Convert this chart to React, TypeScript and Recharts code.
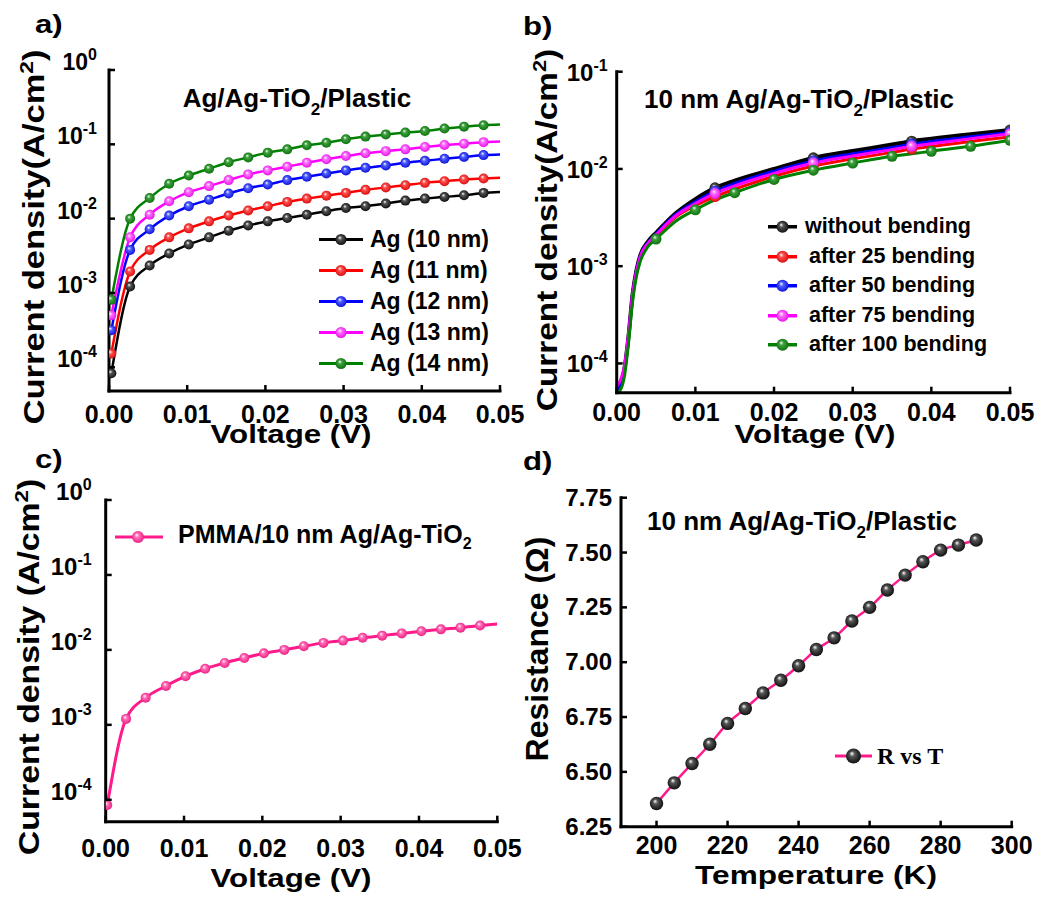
import React from 'react';
import { Legend, Line, LineChart, XAxis, YAxis } from 'recharts';

const FONT = '"Liberation Sans", Arial, Helvetica, sans-serif';
const SERIF = '"Liberation Serif", "Times New Roman", serif';
const PINK = '#ff1a8c';

// (a) J-V for different Ag thickness
const VOLT_A = [0.0003, 0.0027, 0.0052, 0.0077, 0.0102, 0.0128, 0.0153, 0.0178, 0.0203, 0.0228, 0.0253,
  0.0278, 0.0303, 0.0328, 0.0354, 0.0379, 0.0404, 0.0429, 0.0454, 0.0479, 0.05];
const AG_10 = [8.3e-5, 1.22e-3, 2.34e-3, 3.4e-3, 4.5e-3, 5.6e-3, 6.9e-3, 8.1e-3, 9.2e-3, 0.0102, 0.0113,
  0.0126, 0.0139, 0.0147, 0.016, 0.0175, 0.0186, 0.0196, 0.0206, 0.0222, 0.0229];
const AG_11 = [1.53e-4, 1.95e-3, 3.8e-3, 5.6e-3, 7.4e-3, 9.2e-3, 0.011, 0.0129, 0.0147, 0.0168, 0.0186,
  0.0204, 0.0222, 0.0244, 0.0263, 0.0282, 0.0303, 0.0319, 0.0337, 0.0347, 0.0355];
const AG_12 = [3.16e-4, 3.8e-3, 7.2e-3, 0.011, 0.0147, 0.018, 0.0218, 0.0257, 0.0288, 0.033, 0.0366,
  0.0405, 0.0446, 0.0484, 0.052, 0.0566, 0.06, 0.064, 0.0675, 0.0716, 0.073];
const AG_13 = [5e-4, 5.6e-3, 0.0113, 0.0171, 0.0227, 0.0274, 0.033, 0.0394, 0.0446, 0.05, 0.0566,
  0.063, 0.0695, 0.0758, 0.081, 0.0856, 0.092, 0.098, 0.102, 0.107, 0.109];
const AG_14 = [8.1e-4, 0.01, 0.019, 0.0295, 0.038, 0.047, 0.0575, 0.0667, 0.0773, 0.0856, 0.097,
  0.105, 0.117, 0.127, 0.136, 0.144, 0.151, 0.163, 0.173, 0.181, 0.185];
const THICK_KEYS = ['ag10', 'ag11', 'ag12', 'ag13', 'ag14'];
const THICK_NAMES = ['Ag (10 nm)', 'Ag (11 nm)', 'Ag (12 nm)', 'Ag (13 nm)', 'Ag (14 nm)'];

// (b) bending test
const VOLT_B = [0, 0.0005, 0.001, 0.0015, 0.002, 0.0025, 0.003, 0.004, 0.005, 0.0075, 0.01, 0.0125,
  0.015, 0.02, 0.025, 0.03, 0.035, 0.0375, 0.04, 0.045, 0.05];
const BEND_0 = [5.0e-5, 6.0e-5, 9.0e-5, 1.9e-4, 5.0e-4, 9.0e-4, 1.3e-3, 1.8e-3, 2.2e-3, 3.5e-3, 4.9e-3,
  6.4e-3, 7.6e-3, 0.01, 0.013, 0.0153, 0.0178, 0.0193, 0.0205, 0.0228, 0.0251];
const BEND_25 = [5.0e-5, 5.8e-5, 8.5e-5, 1.8e-4, 4.8e-4, 8.6e-4, 1.24e-3, 1.7e-3, 2.05e-3, 3.2e-3, 4.2e-3,
  5.2e-3, 6.2e-3, 8.4e-3, 0.0107, 0.0127, 0.0148, 0.016, 0.017, 0.0192, 0.0213];
const BEND_50 = [5.2e-5, 6.2e-5, 9.0e-5, 1.9e-4, 5.0e-4, 8.9e-4, 1.28e-3, 1.76e-3, 2.15e-3, 3.4e-3, 4.6e-3,
  5.9e-3, 7.1e-3, 9.5e-3, 0.0121, 0.0143, 0.0166, 0.018, 0.0192, 0.0214, 0.0238];
const BEND_75 = [5.8e-5, 6.8e-5, 9.5e-5, 2.0e-4, 5.0e-4, 8.8e-4, 1.26e-3, 1.73e-3, 2.1e-3, 3.3e-3, 4.4e-3,
  5.6e-3, 6.7e-3, 9.0e-3, 0.0115, 0.0136, 0.0158, 0.0171, 0.0182, 0.0205, 0.023];
const BEND_100 = [5.0e-5, 5.4e-5, 7.5e-5, 1.6e-4, 4.2e-4, 7.8e-4, 1.12e-3, 1.6e-3, 1.9e-3, 2.9e-3, 3.8e-3,
  4.8e-3, 5.7e-3, 7.8e-3, 9.7e-3, 0.0115, 0.0135, 0.0143, 0.0152, 0.0171, 0.0197];
const BEND_KEYS = ['b0', 'b25', 'b50', 'b75', 'b100'];
const BEND_NAMES = ['without bending', 'after 25 bending', 'after 50 bending', 'after 75 bending', 'after 100 bending'];
const BEND_MARKS = [0.0125, 0.025, 0.0375, 0.05];
const BEND_100_MARKS = [0.005, 0.01, 0.015, 0.02, 0.025, 0.03, 0.035, 0.04, 0.045, 0.05];

// (c) PMMA coated
const VOLT_C = [0.0002, 0.0026, 0.0051, 0.0077, 0.0102, 0.0127, 0.0152, 0.0177, 0.0202, 0.0228, 0.0253,
  0.0278, 0.0303, 0.0328, 0.0353, 0.0378, 0.0403, 0.0428, 0.0453, 0.0478, 0.05];
const PMMA = [8.5e-5, 1.2e-3, 2.3e-3, 3.3e-3, 4.45e-3, 5.6e-3, 6.7e-3, 7.8e-3, 9.0e-3, 0.01, 0.0112,
  0.0124, 0.0133, 0.0145, 0.0155, 0.0166, 0.0177, 0.0188, 0.0198, 0.0211, 0.0222];

// (d) R vs T
const TEMP = [200, 205, 210, 215, 220, 225, 230, 235, 240, 245, 250, 255, 260, 265, 270, 275, 280, 285, 290];
const RES = [6.356, 6.45, 6.538, 6.626, 6.721, 6.789, 6.86, 6.918, 6.984, 7.058, 7.111, 7.188, 7.25,
  7.329, 7.397, 7.458, 7.511, 7.534, 7.557];

const COLORS = ['#000000', '#ff0000', '#0000ff', '#ff00ff', '#008000'];
const GRADS = ['g-black', 'g-red', 'g-blue', 'g-magenta', 'g-green'];

const V_TICKS = [0, 0.01, 0.02, 0.03, 0.04, 0.05];
const LOG_TICKS = [1e-4, 1e-3, 1e-2, 1e-1, 1];

const rowsA = VOLT_A.map((v, i) => ({ v, ag10: AG_10[i], ag11: AG_11[i], ag12: AG_12[i], ag13: AG_13[i], ag14: AG_14[i] }));
const rowsB = VOLT_B.map((v, i) => ({ v, b0: BEND_0[i], b25: BEND_25[i], b50: BEND_50[i], b75: BEND_75[i], b100: BEND_100[i] }));
const rowsC = VOLT_C.map((v, i) => ({ v, pmma: PMMA[i] }));
const rowsD = TEMP.map((t, i) => ({ t, r: RES[i] }));

const frame = { stroke: '#000', strokeWidth: 3, strokeLinecap: 'square' as const };

const logTick = (gap: number, dy: number, size: number) => (p: any) => {
  const { x, y, payload } = p;
  const exp = Math.round(Math.log10(payload.value));
  return (
    <g>
      <line x1={x} x2={x + 6} y1={y} y2={y} stroke="#000" strokeWidth={2.5} />
      <text x={x - gap} y={y + dy} textAnchor="end" fontFamily={FONT} fontWeight="bold" fontSize={size} fill="#000">
        10<tspan dy={-10} fontSize={16}>{`${exp}`}</tspan>
      </text>
    </g>
  );
};

const linTick = (gap: number, dy: number, size: number) => (p: any) => {
  const { x, y, payload } = p;
  return (
    <g>
      <line x1={x} x2={x + 6} y1={y} y2={y} stroke="#000" strokeWidth={2.5} />
      <text x={x - gap} y={y + dy} textAnchor="end" fontFamily={FONT} fontWeight="bold" fontSize={size} fill="#000">
        {payload.value.toFixed(2)}
      </text>
    </g>
  );
};

const xTick = (dy: number, size: number, digits: number) => (p: any) => {
  const { x, y, payload } = p;
  return (
    <g>
      <line x1={x} x2={x} y1={y} y2={y - 6} stroke="#000" strokeWidth={2.5} />
      <text x={x} y={y + dy} textAnchor="middle" fontFamily={FONT} fontWeight="bold" fontSize={size} fill="#000">
        {payload.value.toFixed(digits)}
      </text>
    </g>
  );
};

const sphereDot = (grad: string, r: number, show: (v: number, i: number) => boolean) => (p: any) => {
  const { cx, cy, index, payload } = p;
  if (cx == null || cy == null || !show(payload.v ?? payload.t, index)) return <g key={`d${index}`} />;
  return <circle key={`d${index}`} cx={cx} cy={cy} r={r} fill={`url(#${grad})`} />;
};

const legendRows = (items: { name: string; color: string; grad: string }[], o: any) => () => (
  <div>
    {items.map((it, i) => (
      <div key={it.name} style={{ display: 'flex', alignItems: 'center', height: o.rowH }}>
        <svg width={o.lineW} height={o.rowH} style={{ display: 'block' }}>
          <line x1={0} x2={o.lineW} y1={o.rowH / 2} y2={o.rowH / 2} stroke={it.color} strokeWidth={o.sw} />
          <circle cx={o.lineW / 2} cy={o.rowH / 2} r={o.r} fill={`url(#${it.grad})`} />
        </svg>
        <span style={{ marginLeft: o.gap + (o.extra && i > 0 ? o.extra : 0), fontFamily: o.font ?? FONT, fontWeight: 'bold', fontSize: o.size, color: '#000', whiteSpace: 'nowrap', lineHeight: 1 }}>
          {it.name}
        </span>
      </div>
    ))}
  </div>
);

function Grad({ id, light, dark }: { id: string; light: string; dark: string }) {
  return (
    <radialGradient id={id} cx="50%" cy="50%" fx="38%" fy="32%" r="60%">
      <stop offset="0%" stopColor="#ffffff" />
      <stop offset="30%" stopColor={light} />
      <stop offset="100%" stopColor={dark} />
    </radialGradient>
  );
}

function Sub() {
  return (
    <>
      <tspan dy={8} fontSize={17}>2</tspan>
      <tspan dy={-8}>/Plastic</tspan>
    </>
  );
}

function Cm2() {
  return (
    <>
      <tspan dy={-11} fontSize={19}>2</tspan>
      <tspan dy={11}>)</tspan>
    </>
  );
}

export default function App() {
  const t = { fontFamily: FONT, fontWeight: 'bold' as const, fill: '#000' };
  return (
    <div style={{ position: 'absolute', left: 0, top: 0, width: 1039, height: 900, background: '#fff' }}>
      <svg width={0} height={0} style={{ position: 'absolute' }}>
        <defs>
          <Grad id="g-black" light="#555" dark="#000" />
          <Grad id="g-red" light="#ff5050" dark="#d00000" />
          <Grad id="g-blue" light="#5060ff" dark="#0000d0" />
          <Grad id="g-magenta" light="#ff70ff" dark="#e000e0" />
          <Grad id="g-green" light="#40a040" dark="#006a00" />
          <Grad id="g-pink" light="#ff70b8" dark="#e8107a" />
        </defs>
      </svg>

      {/* (a) */}
      <div style={{ position: 'absolute', left: 0, top: 0 }}>
        <LineChart width={540} height={450} data={rowsA} margin={{ top: 70, right: 40, bottom: 29, left: 49 }}>
          <XAxis dataKey="v" type="number" domain={[0, 0.05]} ticks={V_TICKS} interval={0} allowDataOverflow
            height={30} tickSize={0} tickMargin={0} tickLine={false} axisLine={frame} tick={xTick(32, 25, 2)} />
          <XAxis xAxisId="top" orientation="top" type="number" domain={[0, 0.05]} height={0} tick={false} tickLine={false} axisLine={frame} />
          <YAxis type="number" scale="log" domain={[4.8e-5, 1]} ticks={LOG_TICKS} interval={0} allowDataOverflow
            width={60} tickSize={0} tickMargin={0} tickLine={false} axisLine={frame} tick={logTick(12, 0, 23)} />
          <YAxis yAxisId="right" orientation="right" type="number" domain={[0, 1]} width={0} tick={false} tickLine={false} axisLine={frame} />
          {THICK_KEYS.map((k, i) => (
            <Line key={k} dataKey={k} name={THICK_NAMES[i]} type="monotone" stroke={COLORS[i]} strokeWidth={2.5}
              dot={sphereDot(GRADS[i], 5, (_v, j) => j < VOLT_A.length - 1)} activeDot={false} isAnimationActive={false} />
          ))}
          <Legend layout="vertical" align="center" verticalAlign="middle" wrapperStyle={{ left: 319, top: 224, width: 190 }}
            content={legendRows(THICK_NAMES.map((n, i) => ({ name: n, color: COLORS[i], grad: GRADS[i] })),
              { rowH: 31, lineW: 44, sw: 3, r: 5.5, gap: 7, size: 23 })} />
        </LineChart>
      </div>

      {/* (b) */}
      <div style={{ position: 'absolute', left: 520, top: 0 }}>
        <LineChart width={519} height={450} data={rowsB} margin={{ top: 71.7, right: 29, bottom: 27.3, left: 36.7 }}>
          <XAxis dataKey="v" type="number" domain={[0, 0.05]} ticks={V_TICKS} interval={0} allowDataOverflow
            height={30} tickSize={0} tickMargin={0} tickLine={false} axisLine={frame} tick={xTick(28, 25, 2)} />
          <XAxis xAxisId="top" orientation="top" type="number" domain={[0, 0.05]} height={0} tick={false} tickLine={false} axisLine={frame} />
          <YAxis type="number" scale="log" domain={[5e-5, 0.1]} ticks={[1e-4, 1e-3, 1e-2, 1e-1]} interval={0} allowDataOverflow
            width={60} tickSize={0} tickMargin={0} tickLine={false} axisLine={frame} tick={logTick(9, 9, 24)} />
          <YAxis yAxisId="right" orientation="right" type="number" domain={[0, 1]} width={0} tick={false} tickLine={false} axisLine={frame} />
          {BEND_KEYS.map((k, i) => (
            <Line key={k} dataKey={k} name={BEND_NAMES[i]} type="monotone" stroke={COLORS[i]} strokeWidth={i === 0 ? 4 : 3}
              dot={sphereDot(GRADS[i], 5.5, (v) => (i === 4 ? BEND_100_MARKS : BEND_MARKS).includes(v))}
              activeDot={false} isAnimationActive={false} />
          ))}
          <Legend layout="vertical" align="center" verticalAlign="middle" wrapperStyle={{ left: 248, top: 212, width: 260 }}
            content={legendRows(BEND_NAMES.map((n, i) => ({ name: n, color: COLORS[i], grad: GRADS[i] })),
              { rowH: 29.5, lineW: 29, sw: 3.5, r: 6, gap: 8, extra: 4, size: 21.5 })} />
        </LineChart>
      </div>

      {/* (c) */}
      <div style={{ position: 'absolute', left: 0, top: 450 }}>
        <LineChart width={540} height={450} data={rowsC} margin={{ top: 50, right: 42.7, bottom: 48.3, left: 45.7 }}>
          <XAxis dataKey="v" type="number" domain={[0, 0.05]} ticks={V_TICKS} interval={0} allowDataOverflow
            height={30} tickSize={0} tickMargin={0} tickLine={false} axisLine={frame} tick={xTick(35, 25, 2)} />
          <XAxis xAxisId="top" orientation="top" type="number" domain={[0, 0.05]} height={0} tick={false} tickLine={false} axisLine={frame} />
          <YAxis type="number" scale="log" domain={[5.1e-5, 1]} ticks={LOG_TICKS} interval={0} allowDataOverflow
            width={60} tickSize={0} tickMargin={0} tickLine={false} axisLine={frame} tick={logTick(14, 0, 24)} />
          <YAxis yAxisId="right" orientation="right" type="number" domain={[0, 1]} width={0} tick={false} tickLine={false} axisLine={frame} />
          <Line dataKey="pmma" name="PMMA/10 nm Ag/Ag-TiO2" type="monotone" stroke={PINK} strokeWidth={3}
            dot={sphereDot('g-pink', 5, (_v, j) => j < VOLT_C.length - 1)} activeDot={false} isAnimationActive={false} />
          <Legend layout="vertical" align="center" verticalAlign="middle" wrapperStyle={{ left: 115, top: 72, width: 390 }}
            content={() => (
              <div style={{ display: 'flex', alignItems: 'center', height: 30 }}>
                <svg width={48} height={30} style={{ display: 'block' }}>
                  <line x1={0} x2={48} y1={15} y2={15} stroke={PINK} strokeWidth={3} />
                  <circle cx={23} cy={15} r={6} fill="url(#g-pink)" />
                </svg>
                <span style={{ marginLeft: 15, fontFamily: FONT, fontWeight: 'bold', fontSize: 25, lineHeight: 1, whiteSpace: 'nowrap' }}>
                  PMMA/10 nm Ag/Ag-TiO<sub style={{ fontSize: 16, verticalAlign: -6 }}>2</sub>
                </span>
              </div>
            )} />
        </LineChart>
      </div>

      {/* (d) */}
      <div style={{ position: 'absolute', left: 520, top: 450 }}>
        <LineChart width={519} height={450} data={rowsD} margin={{ top: 47.7, right: 27.3, bottom: 43.3, left: 41 }}>
          <XAxis dataKey="t" type="number" domain={[190, 300]} ticks={[200, 220, 240, 260, 280, 300]} interval={0} allowDataOverflow
            height={30} tickSize={0} tickMargin={0} tickLine={false} axisLine={frame} tick={xTick(27, 25, 0)} />
          <XAxis xAxisId="top" orientation="top" type="number" domain={[190, 300]} height={0} tick={false} tickLine={false} axisLine={frame} />
          <YAxis type="number" domain={[6.25, 7.75]} ticks={[6.25, 6.5, 6.75, 7, 7.25, 7.5, 7.75]} interval={0} allowDataOverflow
            width={60} tickSize={0} tickMargin={0} tickLine={false} axisLine={frame} tick={linTick(9, 8, 24)} />
          <YAxis yAxisId="right" orientation="right" type="number" domain={[0, 1]} width={0} tick={false} tickLine={false} axisLine={frame} />
          <Line dataKey="r" name="R vs T" type="monotone" stroke={PINK} strokeWidth={2.5}
            dot={sphereDot('g-black', 6.7, () => true)} activeDot={false} isAnimationActive={false} />
          <Legend layout="vertical" align="center" verticalAlign="middle" wrapperStyle={{ left: 315, top: 290, width: 160 }}
            content={legendRows([{ name: 'R vs T', color: PINK, grad: 'g-black' }],
              { rowH: 32, lineW: 37, sw: 3, r: 7.5, gap: 5, size: 24, font: SERIF })} />
        </LineChart>
      </div>

      <svg width={1039} height={900} style={{ position: 'absolute', left: 0, top: 0, pointerEvents: 'none' }}>
        <text transform="translate(35 33) scale(1.2 1)" fontSize={26} {...t}>a)</text>
        <text transform="translate(523 35) scale(1.2 1)" fontSize={26} {...t}>b)</text>
        <text transform="translate(35 468) scale(1.2 1)" fontSize={26} {...t}>c)</text>
        <text transform="translate(523 470) scale(1.2 1)" fontSize={26} {...t}>d)</text>

        <text x={297} y={107} fontSize={26} textAnchor="middle" {...t}>Ag/Ag-TiO<Sub /></text>
        <text x={644} y={108} fontSize={26} {...t}>10 nm Ag/Ag-TiO<Sub /></text>
        <text x={647} y={530} fontSize={26} {...t}>10 nm Ag/Ag-TiO<Sub /></text>

        <text transform="translate(291 443) scale(1.25 1)" fontSize={25} textAnchor="middle" {...t}>Voltage (V)</text>
        <text transform="translate(815 443) scale(1.25 1)" fontSize={25} textAnchor="middle" {...t}>Voltage (V)</text>
        <text transform="translate(291 887) scale(1.25 1)" fontSize={25} textAnchor="middle" {...t}>Voltage (V)</text>
        <text transform="translate(816 884) scale(1.24 1)" fontSize={25.5} textAnchor="middle" {...t}>Temperature (K)</text>

        <text transform="translate(44 237) rotate(-90) scale(1.19 1)" fontSize={29} textAnchor="middle" {...t}>
          Current density(A/cm<Cm2 />
        </text>
        <text transform="translate(557 230) rotate(-90) scale(1.15 1)" fontSize={29} textAnchor="middle" {...t}>
          Current density(A/cm<Cm2 />
        </text>
        <text transform="translate(39 667) rotate(-90) scale(1.165 1)" fontSize={29} textAnchor="middle" {...t}>
          Current density (A/cm<Cm2 />
        </text>
        <text transform="translate(548 649) rotate(-90)" fontSize={32} textAnchor="middle" {...t}>Resistance (Ω)</text>
      </svg>
    </div>
  );
}
